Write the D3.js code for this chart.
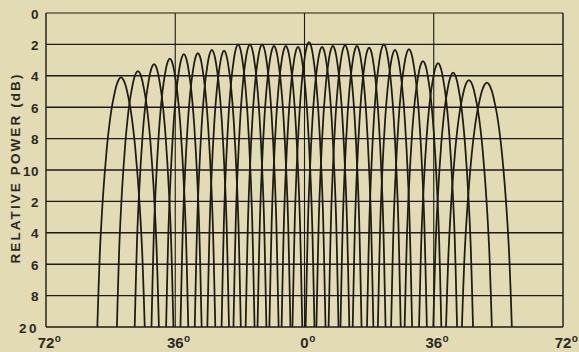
<!DOCTYPE html>
<html>
<head>
<meta charset="utf-8">
<script src="https://cdn.jsdelivr.net/npm/d3@7"></script>
<style>
  html, body { margin: 0; padding: 0; background: #e2dbb4; }
  svg { display: block; }
  text { font-family: "Liberation Sans", "DejaVu Sans", sans-serif; font-weight: bold; fill: #2b2a22; }
</style>
</head>
<body>
<svg id="chart" width="579" height="352"></svg>
<script>
// ---- data ----
// beam pointing angles (degrees)
const beamCenters = [-51.1, -46.4, -41.9, -37.5, -33.6, -29.7, -25.8, -22.4, -18.5, -15.2,
  -11.8, -8.5, -5.2, -1.8, 1.25, 4.9, 7.9, 11.3, 14.6, 18.0,
  22.1, 25.2, 29.1, 33.0, 37.2, 41.4, 45.8, 50.8];
// beam peak level (dB below reference)
const beamPeaks = [4.1, 3.7, 3.25, 2.9, 2.62, 2.55, 2.35, 2.4, 2.0, 2.0,
  2.0, 2.1, 2.1, 2.15, 1.85, 2.15, 2.1, 2.05, 2.1, 2.2,
  2.0, 2.35, 2.3, 3.06, 3.2, 3.8, 4.27, 4.44];
// beam half-width (degrees) at ~16 dB below its peak
const beamHalfWidths = [6.6, 5.8, 5.3, 5.0, 4.8, 4.7, 4.6, 4.5, 4.4, 4.4,
  4.4, 4.4, 4.4, 4.4, 4.4, 4.4, 4.4, 4.4, 4.4, 4.4,
  4.5, 4.6, 4.8, 5.0, 5.2, 5.5, 6.4, 7.0];
// normalized beam profile: [offset / half-width, dB below peak]
const beamProfile = [[0, 0], [0.1, 0.15], [0.2, 0.55], [0.3, 1.2], [0.4, 2.0], [0.5, 3.1],
  [0.6, 4.5], [0.7, 6.3], [0.8, 8.5], [0.9, 11.4], [0.95, 13.5], [1.0, 15.9], [1.05, 18.3], [1.1, 21]];

const yTicks = [0, 2, 4, 6, 8, 10, 12, 14, 16, 18, 20];
const yTickLabels = ["0", "2", "4", "6", "8", "10", "2", "4", "6", "8", "20"];
const xTicks = [-72, -36, 0, 36, 72];
const xTickLabels = ["72", "36", "0", "36", "72"];
const yTitle = "RELATIVE POWER (dB)";

// ---- drawing ----
const svg = d3.select("#chart");
const ink = "#1c1b15";
const x = d3.scaleLinear().domain([-72, 72]).range([46, 563]);
const y = d3.scaleLinear().domain([0, 20]).range([13, 327]);

svg.append("rect").attr("width", 579).attr("height", 352).attr("fill", "#e2dbb4");

svg.append("defs").append("clipPath").attr("id", "plotclip")
  .append("rect").attr("x", x(-72)).attr("y", y(0)).attr("width", x(72) - x(-72)).attr("height", y(20) - y(0));

// horizontal grid
svg.append("g").selectAll("line").data(yTicks).join("line")
  .attr("x1", x(-72)).attr("x2", x(72))
  .attr("y1", d => y(d)).attr("y2", d => y(d))
  .attr("stroke", ink).attr("stroke-width", d => d === 0 ? 1.1 : 1.4);

// vertical grid (including borders)
svg.append("g").selectAll("line").data(xTicks).join("line")
  .attr("x1", d => x(d)).attr("x2", d => x(d))
  .attr("y1", y(0)).attr("y2", y(20))
  .attr("stroke", ink).attr("stroke-width", d => Math.abs(d) === 72 ? 1.4 : 1.1);

// beams
const line = d3.line().x(d => x(d[0])).y(d => y(d[1])).curve(d3.curveMonotoneX);
const beams = beamCenters.map((c, i) => {
  const hw = beamHalfWidths[i], pk = beamPeaks[i];
  const left = beamProfile.slice(1).reverse().map(p => [c - p[0] * hw, pk + p[1]]);
  const right = beamProfile.map(p => [c + p[0] * hw, pk + p[1]]);
  return left.concat(right);
});
svg.append("g").attr("clip-path", "url(#plotclip)")
  .selectAll("path").data(beams).join("path")
  .attr("d", line).attr("fill", "none").attr("stroke", ink).attr("stroke-width", 1.75)
  .attr("stroke-linejoin", "round");

// y tick labels
svg.append("g").selectAll("text").data(yTicks).join("text")
  .attr("x", 39).attr("y", d => y(d) + 5.5)
  .attr("text-anchor", "end").attr("font-size", 13.5)
  .attr("letter-spacing", (d, i) => yTickLabels[i] === "20" ? 2.5 : 0.5)
  .text((d, i) => yTickLabels[i]);

// x tick labels with superscript degree
const xg = svg.append("g");
xTicks.forEach((t, i) => {
  const num = xg.append("text").attr("x", x(t)).attr("y", 348)
    .attr("text-anchor", "middle").attr("font-size", 15).attr("font-weight", "normal")
    .text(xTickLabels[i]);
  const w = num.node().getComputedTextLength();
  xg.append("text").attr("x", x(t) + w / 2 + 0.5).attr("y", 342)
    .attr("font-size", 10).attr("font-weight", "normal").text("o");
});

// y axis title
svg.append("text")
  .attr("transform", `translate(20,168) rotate(-90)`)
  .attr("text-anchor", "middle").attr("font-size", 13.5).attr("letter-spacing", 2.1)
  .text(yTitle);
</script>
</body>
</html>
